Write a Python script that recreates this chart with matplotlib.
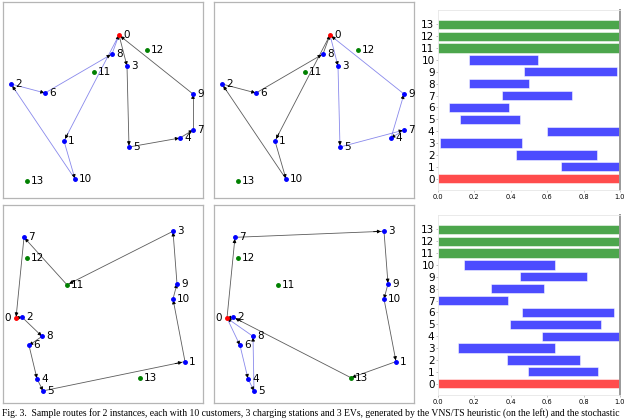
import matplotlib
matplotlib.use("Agg")
import matplotlib.pyplot as plt

# node positions (x, y) for the two instances; 0 = depot, 1-10 customers, 11-13 stations
NODES_A = {
    0: (58, 81.5), 1: (30.5, 28.5), 2: (4, 57), 3: (62, 66), 4: (88.5, 30),
    5: (63, 25.5), 6: (21, 52.5), 7: (95, 34), 8: (54.5, 72), 9: (95, 52),
    10: (36, 9.5), 11: (45.5, 63), 12: (72, 74), 13: (12, 8.5),
}
NODES_B = {
    0: (6.5, 42), 1: (91, 20.5), 2: (9.5, 42.5), 3: (85, 85), 4: (17, 12),
    5: (20, 6), 6: (13, 28.5), 7: (10.5, 82), 8: (19.5, 33), 9: (87, 59),
    10: (85, 51.5), 11: (32, 58.5), 12: (12, 72), 13: (68.5, 12.5),
}
STATIONS = [11, 12, 13]

# routes per panel: (colour, node sequence)
ROUTES_A_VNS = [("blue", [0, 1, 10, 2, 6, 8, 0]), ("black", [0, 3, 5, 4, 7, 9, 0])]
ROUTES_A_STOCH = [("black", [0, 1, 10, 2, 6, 8, 0]), ("blue", [0, 3, 5, 7, 4, 9, 0])]
ROUTES_B_VNS = [("black", [0, 2, 8, 6, 4, 5, 1, 10, 9, 3, 11, 7, 0])]
ROUTES_B_STOCH = [("black", [0, 7, 3, 9, 10, 1, 13, 2, 0]), ("blue", [0, 6, 4, 5, 8, 0])]

# time windows (start, end) for nodes 0..13
TW_A_START = [0.0, 0.675, 0.431, 0.013, 0.600, 0.123, 0.061, 0.349, 0.169, 0.473, 0.171, 0.0, 0.0, 0.0]
TW_A_END = [1.0, 1.0, 0.875, 0.461, 1.0, 0.450, 0.391, 0.739, 0.499, 0.982, 0.550, 1.0, 1.0, 1.0]
TW_B_START = [0.0, 0.492, 0.378, 0.108, 0.571, 0.396, 0.461, 0.0, 0.292, 0.448, 0.141, 0.0, 0.0, 0.0]
TW_B_END = [1.0, 0.877, 0.782, 0.642, 1.0, 0.895, 0.969, 0.383, 0.583, 0.820, 0.644, 1.0, 1.0, 1.0]

CAPTION = ("Fig. 3.  Sample routes for 2 instances, each with 10 customers, 3 charging stations and 3 EVs, "
           "generated by the VNS/TS heuristic (on the left) and the stochastic")

W, H = 640, 419


def box(x0, y0, x1, y1):
    return [x0 / W, 1 - y1 / H, (x1 - x0) / W, (y1 - y0) / H]


def draw_routes(ax, nodes, routes, depot_left=False):
    for colour, seq in routes:
        line_colour = "#3a3adf" if colour == "blue" else "#333333"
        alpha = 0.6 if colour == "blue" else 0.8
        for a, b in zip(seq[:-1], seq[1:]):
            xa, ya = nodes[a]
            xb, yb = nodes[b]
            ax.plot([xa, xb], [ya, yb], color=line_colour, lw=0.6, alpha=alpha, zorder=1)
            # small black arrowhead close to the destination
            tx = xa + (xb - xa) * 0.93
            ty = ya + (yb - ya) * 0.93
            ax.annotate("", xy=(xb + (xa - xb) * 0.02, yb + (ya - yb) * 0.02), xytext=(tx, ty),
                        arrowprops=dict(arrowstyle="-|>", color="black", lw=0.6,
                                        mutation_scale=5, shrinkA=0, shrinkB=0), zorder=2)
    for n, (x, y) in nodes.items():
        if n == 0:
            colour = "red"
        elif n in STATIONS:
            colour = "green"
        else:
            colour = "blue"
        ax.plot(x, y, "o", color=colour, ms=2.5, zorder=3)
        if n == 0 and depot_left:
            ax.text(x - 2.5, y, str(n), fontsize=7.5, ha="right", va="center")
        else:
            ax.text(x + 2.0, y, str(n), fontsize=7.5, ha="left", va="center")
    ax.set_xlim(0, 100)
    ax.set_ylim(0, 98)
    ax.set_xticks([])
    ax.set_yticks([])
    for spine in ax.spines.values():
        spine.set_color("#b5b5b5")
        spine.set_linewidth(0.9)


def draw_windows(ax, starts, ends):
    ids = list(range(len(starts)))
    colours = []
    for i in ids:
        if i == 0:
            colours.append("red")
        elif i in STATIONS:
            colours.append("green")
        else:
            colours.append("blue")
    widths = [e - s for s, e in zip(starts, ends)]
    ax.barh(ids, widths, left=starts, height=0.78, color=colours, alpha=0.7, edgecolor="white", linewidth=0.5)
    ax.set_xlim(0, 1.0)
    ax.set_ylim(-0.95, 14.2)
    ax.set_yticks(ids)
    ax.set_yticklabels([str(i) for i in ids], fontsize=7.5)
    ax.set_xticks([0.0, 0.2, 0.4, 0.6, 0.8, 1.0])
    ax.set_xticklabels(["0.0", "0.2", "0.4", "0.6", "0.8", "1.0"], fontsize=4.8)
    ax.tick_params(axis="y", length=1.5, width=0.5, color="#aaaaaa", pad=1)
    ax.tick_params(axis="x", length=1.5, width=0.5, color="#aaaaaa", pad=1.5)
    for spine in ax.spines.values():
        spine.set_color("#e6e6e6")
        spine.set_linewidth(0.6)
    ax.spines["right"].set_color("#999999")
    ax.spines["right"].set_linewidth(1.4)


fig = plt.figure(figsize=(6.4, 4.19), dpi=100)

draw_routes(fig.add_axes(box(3, 2, 203, 198)), NODES_A, ROUTES_A_VNS)
draw_routes(fig.add_axes(box(214, 2, 414, 198)), NODES_A, ROUTES_A_STOCH)
draw_routes(fig.add_axes(box(3, 205, 203, 403)), NODES_B, ROUTES_B_VNS, depot_left=True)
draw_routes(fig.add_axes(box(214, 205, 414, 403)), NODES_B, ROUTES_B_STOCH, depot_left=True)

draw_windows(fig.add_axes(box(438, 10, 620, 190)), TW_A_START, TW_A_END)
draw_windows(fig.add_axes(box(438, 215, 620, 395)), TW_B_START, TW_B_END)

fig.text(2 / W, 1 - 413 / H, CAPTION, fontsize=6.95, family="Liberation Serif", ha="left", va="center")

fig.savefig("out.png", dpi=100)
